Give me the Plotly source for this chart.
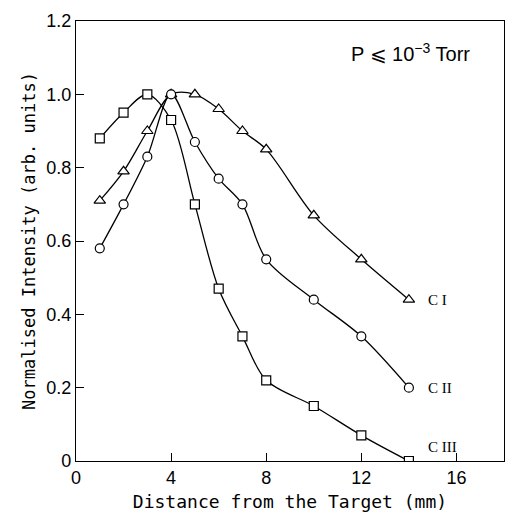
import plotly.graph_objects as go

x_vals = [1, 2, 3, 4, 5, 6, 7, 8, 10, 12, 14]
c1 = [0.71, 0.79, 0.90, 1.00, 1.00, 0.96, 0.90, 0.85, 0.67, 0.55, 0.44]
c2 = [0.58, 0.70, 0.83, 1.00, 0.87, 0.77, 0.70, 0.55, 0.44, 0.34, 0.20]
c3 = [0.88, 0.95, 1.00, 0.93, 0.70, 0.47, 0.34, 0.22, 0.15, 0.07, 0.00]
series_names = ["C I", "C II", "C III"]
label_y = [0.44, 0.20, 0.038]
x_ticks = [0, 4, 8, 12, 16]
y_ticks = [0, 0.2, 0.4, 0.6, 0.8, 1.0, 1.2]
y_tick_text = ["0", "0.2", "0.4", "0.6", "0.8", "1.0", "1.2"]

TICKFONT = "Liberation Sans"
TITLEFONT = "DejaVu Sans Mono"
fig = go.Figure()
symbols = ["triangle-up", "circle", "square"]
sizes = [10, 9, 9]
for ys, sym, sz, name in zip([c1, c2, c3], symbols, sizes, series_names):
    fig.add_trace(go.Scatter(
        x=x_vals, y=ys, mode="lines+markers", name=name,
        line=dict(color="black", width=1.3, shape="spline", smoothing=0.9),
        marker=dict(symbol=sym, size=sz, color="white", line=dict(color="black", width=1.2)),
        showlegend=False))

for name, ly in zip(series_names, label_y):
    fig.add_annotation(x=14.7, y=ly, text=name, showarrow=False, xanchor="left",
                       yanchor="middle", font=dict(family="Liberation Serif", size=15, color="black"))

fig.add_annotation(x=14.05, y=1.113, text="P ⩽ 10<sup>−3</sup> Torr", showarrow=False,
                   xanchor="center", yanchor="middle",
                   font=dict(family=TICKFONT, size=20, color="black"))

fig.update_xaxes(range=[0, 18], tickvals=x_ticks, ticks="inside", ticklen=8, tickcolor="black",
                 showgrid=False, zeroline=False, showline=True, linecolor="black", linewidth=1.2,
                 mirror=True, tickfont=dict(family=TICKFONT, size=18, color="black"),
                 title=dict(text="Distance from the Target (mm)", standoff=8,
                            font=dict(family=TITLEFONT, size=18, color="black")))
fig.update_yaxes(range=[0, 1.2], tickvals=y_ticks, ticktext=y_tick_text, ticks="inside", ticklen=8,
                 tickcolor="black", showgrid=False, zeroline=False, showline=True, linecolor="black",
                 linewidth=1.2, mirror=True, tickfont=dict(family=TICKFONT, size=18, color="black"),
                 title=dict(text="Normalised Intensity (arb. units)", standoff=6,
                            font=dict(family=TITLEFONT, size=17, color="black")))

fig.update_layout(width=506, height=513, margin=dict(l=76, r=2, t=21, b=52),
                  plot_bgcolor="white", paper_bgcolor="white")
fig.write_html("out.html")
